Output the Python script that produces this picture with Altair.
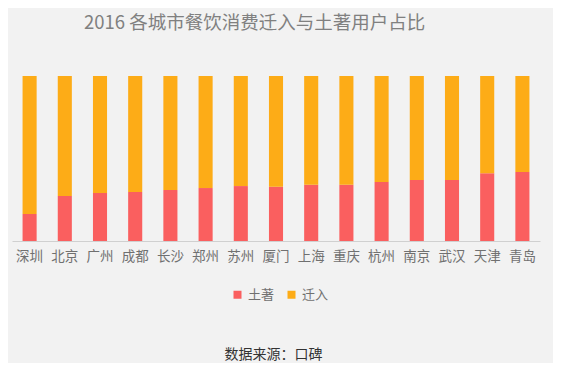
import altair as alt
import pandas as pd

cities = ["深圳", "北京", "广州", "成都", "长沙", "郑州", "苏州", "厦门",
          "上海", "重庆", "杭州", "南京", "武汉", "天津", "青岛"]
native = [0.164, 0.273, 0.291, 0.297, 0.309, 0.321, 0.333, 0.329,
          0.341, 0.341, 0.358, 0.370, 0.370, 0.410, 0.418]
migrant = [round(1 - v, 3) for v in native]
series = ["土著", "迁入"]
colors = ["#fa5f5f", "#fdac17"]

rows = []
for c, n, m in zip(cities, native, migrant):
    rows.append({"城市": c, "类型": "土著", "占比": n, "ord": 0})
    rows.append({"城市": c, "类型": "迁入", "占比": m, "ord": 1})
df = pd.DataFrame(rows)

FONT = "Noto Sans CJK SC"

chart = alt.Chart(df).mark_bar().encode(
    x=alt.X("城市:N", sort=cities, scale=alt.Scale(paddingInner=0.6, paddingOuter=0.3),
            axis=alt.Axis(title="数据来源：口碑", labelAngle=0, labelFontSize=13.5,
                          labelColor="#707070", labelFont=FONT, labelPadding=8,
                          ticks=False, domainColor="#d0d0d0", titleFont=FONT,
                          titleFontSize=14, titleColor="#333333", titleFontWeight="normal",
                          titlePadding=85, titleX=261, titleAlign="center")),
    y=alt.Y("占比:Q", stack="zero", scale=alt.Scale(domain=[0, 1]), axis=None),
    color=alt.Color("类型:N", scale=alt.Scale(domain=series, range=colors),
                    legend=alt.Legend(title=None, orient="none", legendX=219, legendY=212,
                                      direction="horizontal", symbolType="square",
                                      symbolSize=64, labelFontSize=13, labelFont=FONT,
                                      labelColor="#707070", columnPadding=10,
                                      labelOffset=4, symbolStrokeWidth=0)),
    order=alt.Order("ord:Q", sort="ascending"),
).properties(
    width=528, height=165,
    title=alt.TitleParams("2016 各城市餐饮消费迁入与土著用户占比", font=FONT, fontSize=18.5,
                          fontWeight="normal", color="#808080", anchor="start", dx=72,
                          offset=44),
    autosize=alt.AutoSizeParams(type="none"),
    padding={"left": 4, "top": 68, "right": 13, "bottom": 122},
    background="#f2f2f2",
).configure_view(stroke=None)

chart.save("out.html", embed_options={"renderer": "svg", "actions": False})
